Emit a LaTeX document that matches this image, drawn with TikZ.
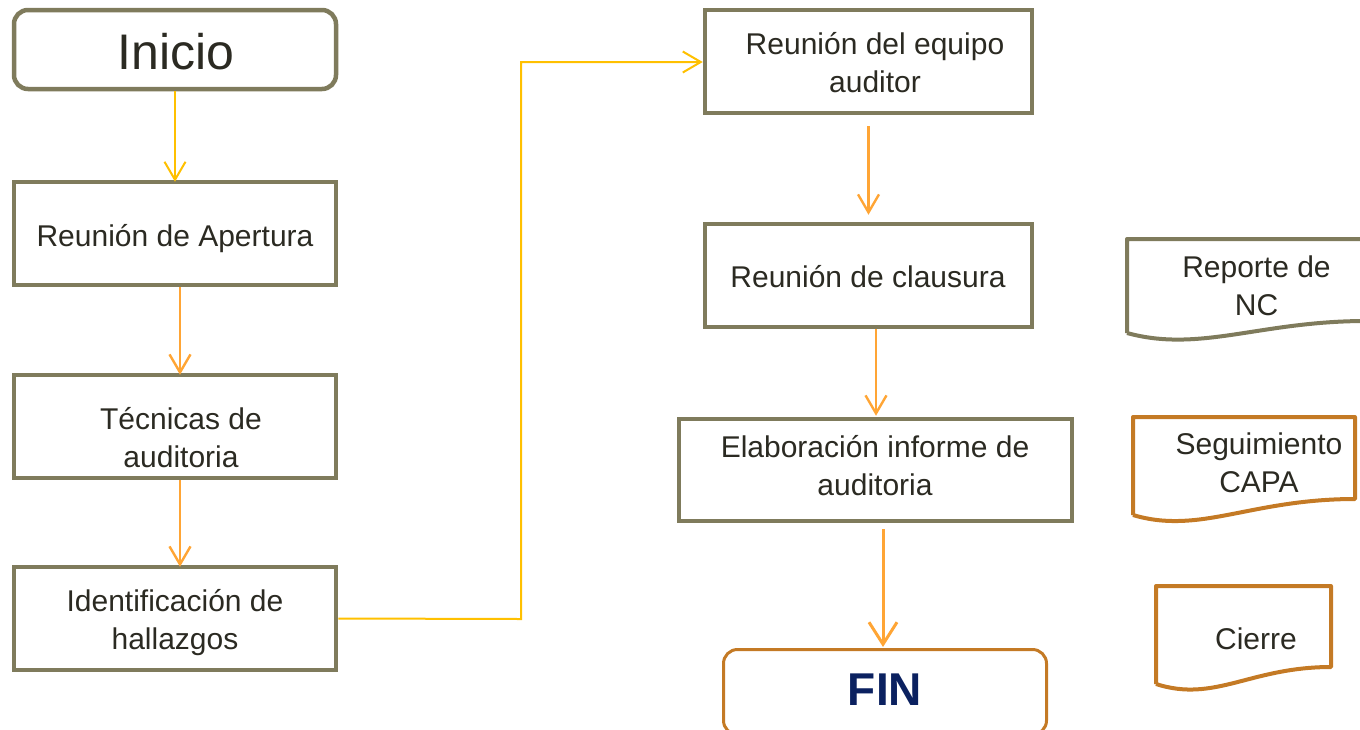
\documentclass[tikz,border=0pt]{standalone}
\usepackage{fontspec}
\setmainfont{Liberation Sans}
\usetikzlibrary{arrows.meta}
\definecolor{boxgray}{HTML}{7F7B5C}
\definecolor{docorange}{HTML}{C47A25}
\definecolor{txtcol}{HTML}{2B2A22}
\definecolor{finblue}{HTML}{0B2160}
\definecolor{ayellow}{HTML}{FFC000}
\definecolor{aorange}{HTML}{FFA535}
\tikzset{
  box/.style={draw=boxgray, line width=4.5pt, minimum width=322pt, minimum height=103pt, inner sep=0pt},
  txt/.style={text=txtcol, font=\fontsize{30}{38}\selectfont, align=center, inner sep=0pt},
  docline/.style={line width=4pt, line join=round},
  yarrow/.style={draw=ayellow, line width=2pt, -{Straight Barb[length=18pt,width=21pt]}},
  oarrow/.style={draw=aorange, line width=2.4pt, -{Straight Barb[length=18pt,width=21pt]}}
}
\begin{document}
\begin{tikzpicture}[x=1pt,y=-1pt]
\useasboundingbox (0,0) rectangle (1360,729);
% left column
\node[box, rounded corners=14pt, minimum height=79pt] (ini) at (175,49.5) {};
\node[txt, font=\fontsize{50}{60}\selectfont] (tini) at (176,52) {Inicio};
\node[box] (ap) at (175,233.5) {};
\node[txt] (tap) at (175,239) {Reunión de Apertura};
\node[box] (tec) at (175,426.5) {};
\node[txt] (ttec) at (181,438) {Técnicas de\\auditoria};
\node[box] (ide) at (175,618.5) {};
\node[txt] (tide) at (175,623) {Identificación de\\hallazgos};
% middle column
\node[box, minimum width=327pt] (equ) at (868.5,61.5) {};
\node[txt] (tequ) at (875,63) {Reunión del equipo\\auditor};
\node[box, minimum width=327pt] (cla) at (868.5,275.5) {};
\node[txt] (tcla) at (868,277) {Reunión de clausura};
\node[box, minimum width=393pt, minimum height=102pt] (ela) at (875.5,470) {};
\node[txt] (tela) at (875,466) {Elaboración informe de\\auditoria};
\node[draw=docorange, line width=3pt, rounded corners=14pt, minimum width=323pt, minimum height=85pt, inner sep=0pt] (fin) at (885,692) {};
\node[text=finblue, font=\fontsize{46}{50}\selectfont\bfseries, inner sep=0pt] (tfin) at (885,690) {FIN};
% documents
\draw[docline, draw=boxgray] (1127,333) -- (1127,239) -- (1366,239) -- (1366,321)
  .. controls (1260,321) and (1200,353) .. (1127,333);
\node[txt] (trep) at (1256.5,286) {Reporte de\\NC};
\draw[docline, draw=docorange] (1133,515) -- (1133,417) -- (1355,417) -- (1355,499)
  .. controls (1250,499) and (1200,535) .. (1133,515);
\node[txt] (tseg) at (1259,463) {Seguimiento\\CAPA};
\draw[docline, draw=docorange] (1156,684) -- (1156,586) -- (1331,586) -- (1331,667)
  .. controls (1250,667) and (1215,703) .. (1156,684);
\node[txt] (tcie) at (1256,639) {Cierre};
% connectors
\draw[yarrow, shorten >=-2pt] (ini.south) -- (ap.north);
\draw[oarrow, shorten >=-2pt] ([xshift=5pt]ap.south) -- ([xshift=5pt]tec.north);
\draw[oarrow, shorten >=-2pt] ([xshift=5pt]tec.south) -- ([xshift=5pt]ide.north);
\coordinate (k1) at (521,619);
\coordinate (k2) at (521,62);
\draw[yarrow] (ide.east) -- (k1) -- (k2) -- (k2 -| equ.west);
\draw[oarrow, shorten <=11pt, shorten >=7pt] (equ.south) -- (cla.north);
\draw[oarrow, shorten >=1pt] ([xshift=7.5pt]cla.south) -- ([xshift=0.5pt]ela.north);
\draw[draw=aorange, line width=3pt, -{Straight Barb[length=22pt,width=28pt]}, shorten <=6pt, shorten >=1pt] ([xshift=7.5pt]ela.south) -- ([xshift=-2pt]fin.north);
\end{tikzpicture}
\end{document}
